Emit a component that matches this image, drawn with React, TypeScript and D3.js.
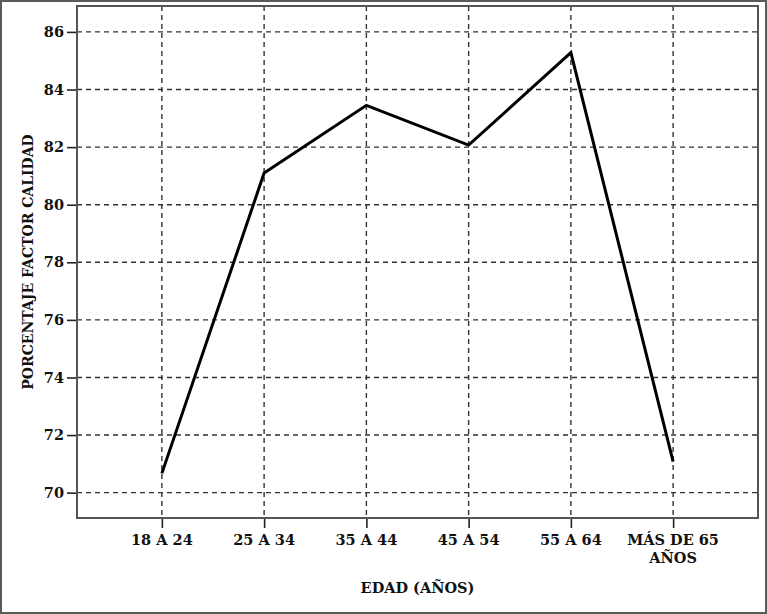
import React, { useEffect, useRef } from "react";
import * as d3 from "d3";

const categories = ["18 A 24", "25 A 34", "35 A 44", "45 A 54", "55 A 64", "MÁS DE 65|AÑOS"];
const values = [70.67, 81.1, 83.45, 82.07, 85.28, 71.08];
const yTicks = [70, 72, 74, 76, 78, 80, 82, 84, 86];

const width = 767;
const height = 614;
const margin = { top: 6, right: 9, bottom: 96, left: 77 };
const font = "'DejaVu Serif', serif";

const App = () => {
  const svgRef = useRef(null);

  useEffect(() => {
    const svgEl = d3.select(svgRef.current);
    svgEl.selectAll("*").remove();

    const x = d3
      .scalePoint()
      .domain(categories)
      .range([margin.left, width - margin.right])
      .padding(0.83);

    const y = d3
      .scaleLinear()
      .domain([69.12, 86.9])
      .range([height - margin.bottom, margin.top]);

    // outer frame
    svgEl
      .append("rect")
      .attr("x", 1)
      .attr("y", 1)
      .attr("width", width - 2)
      .attr("height", height - 2)
      .attr("fill", "white")
      .attr("stroke", "#5a5a5a")
      .attr("stroke-width", 2);

    // grid
    const grid = svgEl.append("g");
    grid
      .selectAll("line.h")
      .data(yTicks)
      .join("line")
      .attr("x1", margin.left)
      .attr("x2", width - margin.right)
      .attr("y1", (d) => y(d))
      .attr("y2", (d) => y(d))
      .attr("stroke", "#333")
      .attr("stroke-width", 1.4)
      .attr("stroke-dasharray", "5,4");
    grid
      .selectAll("line.v")
      .data(categories)
      .join("line")
      .attr("x1", (d) => x(d))
      .attr("x2", (d) => x(d))
      .attr("y1", margin.top)
      .attr("y2", height - margin.bottom)
      .attr("stroke", "#333")
      .attr("stroke-width", 1.4)
      .attr("stroke-dasharray", "5,4");

    // y axis
    const yAxis = d3.axisLeft(y).tickValues(yTicks).tickSize(10).tickPadding(3);
    const yAxisGroup = svgEl
      .append("g")
      .attr("transform", `translate(${margin.left},0)`)
      .call(yAxis);
    yAxisGroup.select(".domain").remove();
    yAxisGroup.selectAll("line").attr("stroke", "#222").attr("stroke-width", 1.6);
    yAxisGroup
      .selectAll("text")
      .attr("fill", "#111")
      .attr("font-family", font)
      .attr("font-weight", "bold")
      .attr("font-size", "14.5px");

    // x axis
    const xAxis = d3.axisBottom(x).tickSize(10).tickFormat(() => "");
    const xAxisGroup = svgEl
      .append("g")
      .attr("transform", `translate(0,${height - margin.bottom})`)
      .call(xAxis);
    xAxisGroup.select(".domain").remove();
    xAxisGroup.selectAll("line").attr("stroke", "#222").attr("stroke-width", 1.6);

    const xLabels = svgEl
      .append("g")
      .selectAll("text")
      .data(categories)
      .join("text")
      .attr("x", (d) => x(d))
      .attr("y", height - margin.bottom + 27)
      .attr("text-anchor", "middle")
      .attr("fill", "#111")
      .attr("font-family", font)
      .attr("font-weight", "bold")
      .attr("font-size", "14.5px");
    xLabels
      .selectAll("tspan")
      .data((d) => d.split("|").map((t) => ({ t, c: d })))
      .join("tspan")
      .attr("x", (d) => x(d.c))
      .attr("dy", (d, i) => (i === 0 ? 0 : 18))
      .text((d) => d.t);

    // plot frame
    svgEl
      .append("rect")
      .attr("x", margin.left)
      .attr("y", margin.top)
      .attr("width", width - margin.left - margin.right)
      .attr("height", height - margin.top - margin.bottom)
      .attr("fill", "none")
      .attr("stroke", "#555")
      .attr("stroke-width", 2);

    // line
    const line = d3
      .line()
      .x((d, i) => x(categories[i]))
      .y((d) => y(d));

    svgEl
      .append("path")
      .datum(values)
      .attr("d", line)
      .attr("fill", "none")
      .attr("stroke", "black")
      .attr("stroke-width", 3);

    // titles
    svgEl
      .append("text")
      .attr("x", (margin.left + width - margin.right) / 2)
      .attr("y", 593)
      .attr("text-anchor", "middle")
      .attr("fill", "#111")
      .attr("font-family", font)
      .attr("font-weight", "bold")
      .attr("font-size", "14.5px")
      .text("EDAD (AÑOS)");

    svgEl
      .append("text")
      .attr("transform", `translate(33,${(margin.top + height - margin.bottom) / 2}) rotate(-90)`)
      .attr("text-anchor", "middle")
      .attr("fill", "#111")
      .attr("font-family", font)
      .attr("font-weight", "bold")
      .attr("font-size", "14px")
      .text("PORCENTAJE FACTOR CALIDAD");
  }, []);

  return (
    <svg
      ref={svgRef}
      width={width}
      height={height}
      style={{ position: "absolute", left: 0, top: 0 }}
    />
  );
};

export default App;
